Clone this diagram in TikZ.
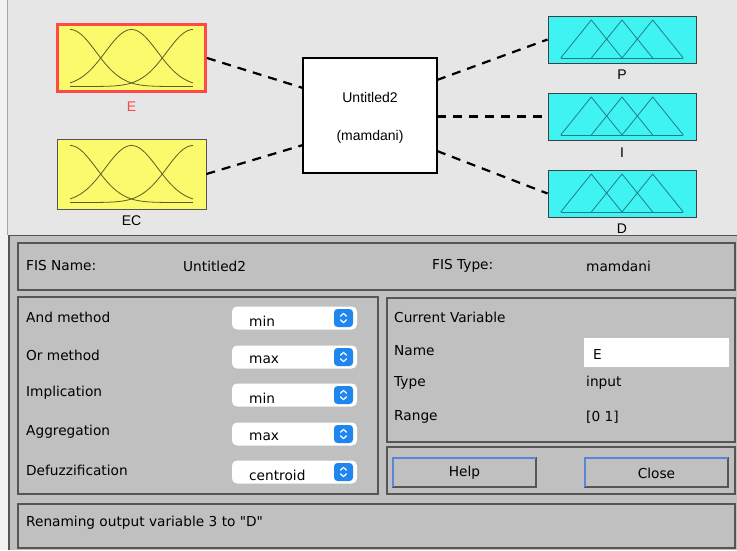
\documentclass[tikz,border=0pt]{standalone}
\usepackage{fontspec}
\setmainfont{Liberation Sans}
\newfontfamily\uifont{DejaVu Sans}
\usetikzlibrary{calc}

\definecolor{edgebg}{HTML}{F2F2F2}
\definecolor{topbg}{HTML}{E6E6E6}
\definecolor{botbg}{HTML}{C0C0C0}
\definecolor{frameline}{HTML}{555555}
\definecolor{inyellow}{HTML}{FAFA6C}
\definecolor{curvecol}{HTML}{5E5C24}
\definecolor{outcyan}{HTML}{3FF3F3}
\definecolor{tricol}{HTML}{1F7E86}
\definecolor{selred}{HTML}{FF4848}
\definecolor{popblue}{HTML}{1E86EE}
\definecolor{btnblue}{HTML}{5A86D8}

\tikzset{
  diag/.style={font=\fontsize{14}{16}\selectfont},
  ui/.style={font=\uifont\fontsize{13.7}{16}\selectfont, inner sep=0pt, anchor=west},
  inbox/.style={fill=inyellow, draw=frameline, line width=0.8pt, inner sep=0pt,
                minimum width=149pt, minimum height=70pt},
  outbox/.style={fill=outcyan, draw=black!75, line width=1pt, inner sep=0pt,
                 minimum width=148pt, minimum height=47pt},
  fisbox/.style={fill=white, draw=black, line width=2pt, inner sep=0pt,
                 minimum width=134pt, minimum height=115pt},
  link/.style={draw=black, line width=2.2pt, dash pattern=on 9pt off 7pt},
  panel/.style={draw=frameline, line width=1.4pt},
  popup/.style={fill=white, rounded corners=5pt},
  popbtn/.style={fill=popblue, rounded corners=3.5pt},
  chevron/.style={draw=white, line width=1.2pt, line cap=round, line join=round},
  btnframe/.style={draw=frameline, line width=1.2pt, fill=botbg},
  btnlight/.style={draw=btnblue, line width=1.4pt},
}

% three Gaussian membership functions inside an input box
\newcommand\gaussmfs[1]{%
  \begin{scope}[shift={(#1.center)}]
    \foreach \c in {0,0.5,1}{
      \draw[curvecol, line width=0.8pt] plot[domain=0:1, samples=60, smooth]
        ({-61.5+123*\x},{28.5-57*exp(-((\x-\c)^2)/0.0901)});
    }
  \end{scope}}

% three triangular membership functions inside an output box
\newcommand\trimfs[1]{%
  \begin{scope}[shift={(#1.center)}, tricol, line width=0.8pt, line join=round]
    \draw (-61.3,18.5) -- (-30.7,-19.5) -- (0,18.5);
    \draw (-30.7,18.5) -- (0,-19.5) -- (30.7,18.5);
    \draw (0,18.5) -- (30.7,-19.5) -- (61.3,18.5);
    \draw (-61.3,18.5) -- (61.3,18.5);
  \end{scope}}

% a popup menu with its blue stepper button
\newcommand\popmenu[3]{% #1 name, #2 centre y, #3 value
  \fill[black!25, rounded corners=5pt] (232,{#2-11}) rectangle (357,{#2+12.5});
  \node[popup, minimum width=125pt, minimum height=23pt, inner sep=0pt] (#1) at (294.5,#2) {};
  \node[ui] (#1val) at (249,{#2+3}) {#3};
  \node[popbtn, minimum width=19pt, minimum height=18pt, inner sep=0pt] (#1btn) at (343.5,#2) {};
  \draw[chevron] ($(#1btn.center)+(-3,-1.8)$) -- ($(#1btn.center)+(0,-4.6)$) -- ($(#1btn.center)+(3,-1.8)$);
  \draw[chevron] ($(#1btn.center)+(-3,1.8)$) -- ($(#1btn.center)+(0,4.6)$) -- ($(#1btn.center)+(3,1.8)$);
}

% a push button with a light top-left edge
\newcommand\pushbtn[4]{% #1 name, #2 left x, #3 right x, #4 text
  \draw[btnframe] (#2,458) rectangle (#3,487);
  \draw[btnlight] (#2,487) -- (#2,458) -- (#3,458);
  \node[ui, anchor=center] (#1) at ({(#2+#3)/2},473) {#4};
}

\begin{document}
\begin{tikzpicture}[x=1pt, y=-1pt]
\useasboundingbox (0,0) rectangle (737,550);

% window background
\fill[edgebg] (0,0) rectangle (737,550);
\fill[topbg] (7,0) rectangle (737,235);
\draw[black!35, line width=1pt] (7.5,0) -- (7.5,235);
\fill[botbg] (9,235) rectangle (737,550);
\draw[frameline, line width=1.5pt] (9,550) -- (9,235.5) -- (737,235.5);

% ---- system diagram ----
\node[inbox, draw=selred, line width=3pt, minimum width=148pt, minimum height=67pt] (E) at (131.5,58) {};
\gaussmfs{E}
\node[diag, text=selred] (Elabel) at (131.5,107) {E};

\node[inbox] (EC) at (131.5,174) {};
\gaussmfs{EC}
\node[diag] (EClabel) at (131.5,221) {EC};

\node[fisbox] (fis) at (370,115.5) {};
\node[diag] (fisname) at (370,97) {Untitled2};
\node[diag] (fistype) at (370,137) {(mamdani)};

\node[outbox] (P) at (622,39.5) {};
\trimfs{P}
\node[diag] (Plabel) at (622,75) {P};

\node[outbox] (I) at (622,116.5) {};
\trimfs{I}
\node[diag] (Ilabel) at (622,153) {I};

\node[outbox] (D) at (622,193.5) {};
\trimfs{D}
\node[diag] (Dlabel) at (622,229) {D};

\coordinate (fisE) at (303,88);
\coordinate (fisEC) at (303,145);
\coordinate (fisP) at (437,80);
\coordinate (fisI) at (437,116.5);
\coordinate (fisD) at (437,151);

\draw[link] (E.east) -- (fisE);
\draw[link] (EC.east) -- (fisEC);
\draw[link] (fisP) -- (P.west);
\draw[link] (fisI) -- (I.west);
\draw[link] (fisD) -- (D.west);

% ---- FIS name / type bar ----
\draw[panel] (18,243) rectangle (735,290);
\node[ui] (fnl) at (26,266) {FIS Name:};
\node[ui] (fnv) at (183,266) {Untitled2};
\node[ui] (ftl) at (432,266) {FIS Type:};
\node[ui] (ftv) at (586,266) {mamdani};

% ---- method panel ----
\draw[panel] (18,297) rectangle (378,494);
\node[ui] (andl) at (26,317) {And method};
\node[ui] (orl) at (26,355) {Or method};
\node[ui] (impl) at (26,393) {Implication};
\node[ui] (aggl) at (26,432) {Aggregation};
\node[ui] (defl) at (26,470) {Defuzzification};
\popmenu{andm}{318}{min}
\popmenu{orm}{357}{max}
\popmenu{impm}{395}{min}
\popmenu{aggm}{434}{max}
\popmenu{defm}{472}{centroid}

% ---- current variable panel ----
\draw[panel] (387,298) rectangle (735,442);
\node[ui] (cvl) at (394,317) {Current Variable};
\node[ui] (nml) at (394,351) {Name};
\node[fill=white, minimum width=145pt, minimum height=29pt, inner sep=0pt] (nmbox) at (656.5,352.5) {};
\node[ui] (nmv) at (593,354) {E};
\node[ui] (tyl) at (394,383) {Type};
\node[ui] (tyv) at (586,383) {input};
\node[ui] (rgl) at (394,417) {Range};
\node[ui] (rgv) at (586,417) {[0 1]};

% ---- buttons ----
\draw[panel] (387,447) rectangle (735,494);
\pushbtn{help}{393}{536}{Help}
\pushbtn{close}{585}{728}{Close}

% ---- status line ----
\draw[panel] (18,504) rectangle (735,548);
\node[ui] (status) at (26,523) {Renaming output variable 3 to "D"};
\end{tikzpicture}
\end{document}
